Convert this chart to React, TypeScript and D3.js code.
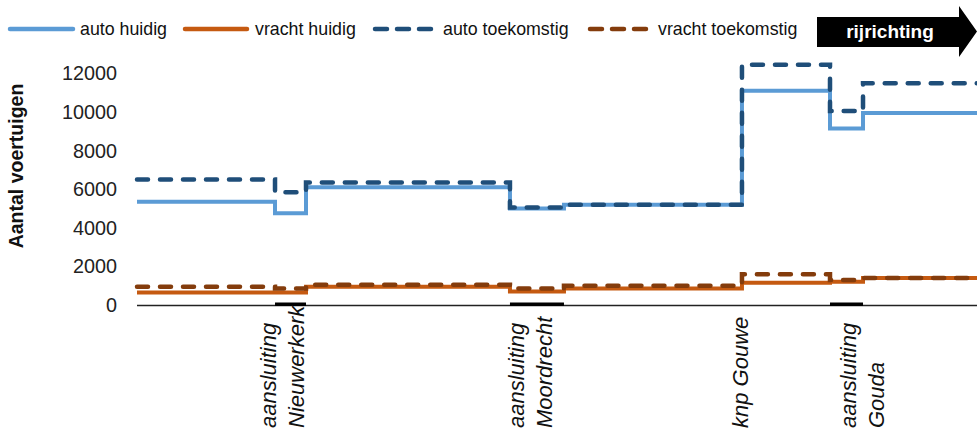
import React from "react";
import * as d3 from "d3";

// ---- data ----
const boundaries = [0, 16.43, 20.12, 44.4, 50.83, 72.02, 82.5, 86.43, 100];
const autoHuidig = [5350, 4750, 6100, 5000, 5200, 11100, 9150, 9950];
const vrachtHuidig = [650, 650, 950, 700, 850, 1150, 1200, 1400];
const autoToekomstig = [6500, 5850, 6350, 5050, 5200, 12450, 10050, 11500];
const vrachtToekomstig = [950, 850, 1050, 850, 1000, 1600, 1300, 1400];
const junctionStart = [16.43, 44.4, 82.5];
const junctionEnd = [20.12, 50.83, 86.43];
const categoryLabels = [["aansluiting", "Nieuwerkerk"], ["aansluiting", "Moordrecht"], ["knp Gouwe"], ["aansluiting", "Gouda"]];
const categoryPos = [17.5, 47.0, 72.0, 86.5];
const yTicks = [0, 2000, 4000, 6000, 8000, 10000, 12000];
const seriesNames = ["auto huidig", "vracht huidig", "auto toekomstig", "vracht toekomstig"];

const W = 977, H = 433;
const FONT = "'Liberation Sans', Arial, sans-serif";

export default function App() {
  const x = d3.scaleLinear().domain([0, 100]).range([137, 977]);
  const y = d3.scaleLinear().domain([0, 12000]).range([305, 73.5]);

  const stepPath = (vals: number[]) => {
    const pts: [number, number][] = vals.map((v, i) => [boundaries[i], v]);
    pts.push([boundaries[boundaries.length - 1], vals[vals.length - 1]]);
    return d3.line<[number, number]>()
      .x((d) => x(d[0]))
      .y((d) => y(d[1]))
      .curve(d3.curveStepAfter)(pts) || "";
  };

  const series = [
    { name: seriesNames[0], vals: autoHuidig, color: "#5B9BD5", dash: null },
    { name: seriesNames[1], vals: vrachtHuidig, color: "#C55A11", dash: null },
    { name: seriesNames[2], vals: autoToekomstig, color: "#1F4E79", dash: "11 12" },
    { name: seriesNames[3], vals: vrachtToekomstig, color: "#843C0C", dash: "11 12" },
  ];

  const legendLineX = [8, 183, 373, 588];
  const legendLineLen = [67, 66, 60, 60];
  const legendTextX = [80, 255, 443, 658];

  return (
    <svg width={W} height={H} style={{ position: "absolute", left: 0, top: 0, background: "#fff" }} fontFamily={FONT}>
      {/* legend */}
      {series.map((s, i) => (
        <g key={s.name}>
          <line x1={legendLineX[i] + 2} x2={legendLineX[i] + legendLineLen[i] - 2} y1={29} y2={29}
            stroke={s.color} strokeWidth={4.5} strokeLinecap="round"
            strokeDasharray={s.dash ? "12 10" : undefined} />
          <text x={legendTextX[i]} y={35} fontSize={17.8} fill="#111">{s.name}</text>
        </g>
      ))}
      {/* direction arrow */}
      <polygon points="817,17 959,17 959,6 977,31.5 959,57 959,47 817,47" fill="#000" />
      <text x={890} y={37.5} fontSize={19} fontWeight="bold" fill="#fff" textAnchor="middle">rijrichting</text>

      {/* y axis ticks */}
      {yTicks.map((t) => (
        <text key={t} x={117} y={y(t)} dy="0.35em" fontSize={19.8} textAnchor="end" fill="#222">{t}</text>
      ))}
      <text transform={`translate(23,166) rotate(-90)`} fontSize={19.5} fontWeight="bold" textAnchor="middle" fill="#111">Aantal voertuigen</text>

      {/* x axis */}
      <line x1={137} x2={977} y1={305.5} y2={305.5} stroke="#222" strokeWidth={1.5} />
      {junctionStart.map((s, i) => (
        <rect key={i} x={x(s)} y={302.5} width={x(junctionEnd[i]) - x(s)} height={3.5} fill="#000" />
      ))}

      {/* series: solid first, dashed on top */}
      {series.filter((s) => !s.dash).map((s) => (
        <path key={s.name} d={stepPath(s.vals)} fill="none" stroke={s.color} strokeWidth={4} />
      ))}
      {series.filter((s) => s.dash).map((s) => (
        <path key={s.name} d={stepPath(s.vals)} fill="none" stroke={s.color} strokeWidth={4.5}
          strokeDasharray={s.dash as string} strokeLinecap="round" />
      ))}

      {/* category labels */}
      {categoryLabels.map((lines, i) => (
        <g key={i}>
          {lines.map((ln, j) => {
            const cx = x(categoryPos[i]) + (j - (lines.length - 1) / 2) * 28 + 6;
            return (
              <text key={j} transform={`translate(${cx},428) rotate(-90)`} fontSize={22}
                fontStyle="italic" fill="#111" textAnchor="start">{ln}</text>
            );
          })}
        </g>
      ))}
    </svg>
  );
}
